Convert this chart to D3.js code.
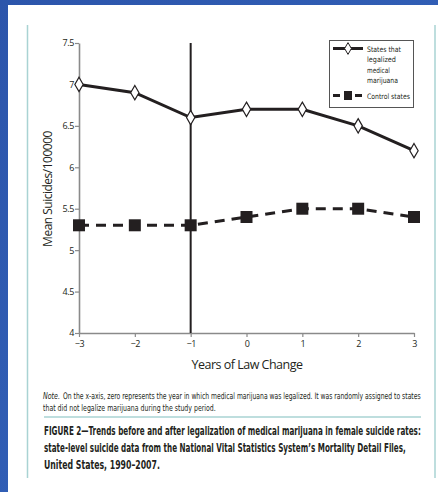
<!DOCTYPE html>
<html>
<head>
<meta charset="utf-8">
<script src="https://cdn.jsdelivr.net/npm/d3@7"></script>
<style>
  html, body { margin: 0; padding: 0; background: #2d5bb0; }
  svg { display: block; }
</style>
</head>
<body>
<svg id="chart" width="438" height="492"></svg>
<script>
// Years relative to the law change
const years = [-3, -2, -1, 0, 1, 2, 3];
// Mean female suicides per 100 000
const legalized = [7.0, 6.9, 6.6, 6.7, 6.7, 6.5, 6.2];
const control = [5.3, 5.3, 5.3, 5.4, 5.5, 5.5, 5.4];
const yTicks = [4, 4.5, 5, 5.5, 6, 6.5, 7, 7.5];
const legendLabels = [["States that", "legalized", "medical", "marijuana"], ["Control states"]];
const noteLead = "Note.";
const noteLines = [
  "On the x-axis, zero represents the year in which medical marijuana was legalized. It was randomly assigned to states",
  "that did not legalize marijuana during the study period."
];
const captionLines = [
  "FIGURE 2\u2014Trends before and after legalization of medical marijuana in female suicide rates:",
  "state-level suicide data from the National Vital Statistics System\u2019s Mortality Detail Files,",
  "United States, 1990\u20132007."
];
const lawYear = -1;

const svg = d3.select("#chart");
const ink = "#231f20";
const teal = "#a9d3d3";
const narrow = "'Liberation Sans Narrow', 'DejaVu Sans Condensed', sans-serif";
const axisFont = "'Open Sans', 'DejaVu Sans', sans-serif";

// condensed text: draw at (x, y) and squeeze horizontally to width w
function condensed(parent, str, x, y, w, size, opts = {}) {
  const g = parent.append("g").attr("transform", `translate(${x},${y})`);
  const t = g.append("text").attr("font-family", narrow).attr("font-size", size)
    .attr("fill", ink).attr("font-weight", opts.weight || "normal")
    .attr("font-style", opts.style || "normal").text(str);
  const natural = t.node().getComputedTextLength();
  t.attr("transform", `scale(${w / natural},1)`);
  return t;
}

// page background
const grad = svg.append("defs").append("linearGradient").attr("id", "bg")
  .attr("x1", 0).attr("y1", 0).attr("x2", 1).attr("y2", 1);
grad.append("stop").attr("offset", 0).attr("stop-color", "#2c55ab");
grad.append("stop").attr("offset", 1).attr("stop-color", "#3566be");
svg.append("rect").attr("width", 438).attr("height", 492).attr("fill", "url(#bg)");
svg.append("rect").attr("x", 8).attr("y", 5).attr("width", 430).attr("height", 487).attr("fill", "#ffffff");

// frame rules
svg.append("line").attr("x1", 27.5).attr("x2", 27.5).attr("y1", 25).attr("y2", 478)
  .attr("stroke", teal).attr("stroke-width", 1.5);
svg.append("line").attr("x1", 435).attr("x2", 435).attr("y1", 25).attr("y2", 478)
  .attr("stroke", teal).attr("stroke-width", 1.5);
svg.append("line").attr("x1", 44).attr("x2", 421).attr("y1", 417).attr("y2", 417)
  .attr("stroke", teal).attr("stroke-width", 1.5);

// scales
const x = d3.scaleLinear().domain([-3, 3]).range([79, 414]);
const y = d3.scaleLinear().domain([4, 7.5]).range([333, 43]);

// axes
const xAxis = svg.append("g").attr("transform", "translate(0,333)")
  .call(d3.axisBottom(x).tickValues(years).tickSize(4).tickSizeOuter(0)
    .tickFormat(d => d < 0 ? "\u2212" + Math.abs(d) : d));
const yAxis = svg.append("g").attr("transform", "translate(79,0)")
  .call(d3.axisLeft(y).tickValues(yTicks).tickSize(4).tickSizeOuter(0).tickFormat(d3.format("")));
[xAxis, yAxis].forEach(g => {
  g.select(".domain").attr("stroke", "#8a8a8a").attr("stroke-width", 1.6);
  g.selectAll(".tick line").attr("stroke", "#8a8a8a").attr("stroke-width", 1.2);
  g.selectAll(".tick text").attr("fill", ink).attr("font-family", axisFont)
    .attr("font-size", 9).attr("letter-spacing", -0.4);
});
xAxis.selectAll(".tick text").attr("y", 8).attr("dy", "0.71em");
yAxis.selectAll(".tick text").attr("x", -5);

// axis titles
svg.append("text").attr("x", 247).attr("y", 369).attr("text-anchor", "middle")
  .attr("font-family", axisFont).attr("font-size", 12.5).attr("letter-spacing", -0.5)
  .attr("fill", ink).text("Years of Law Change");
svg.append("text").attr("transform", "translate(52,189) rotate(-90)").attr("text-anchor", "middle")
  .attr("font-family", axisFont).attr("font-size", 12).attr("letter-spacing", -0.5)
  .attr("fill", ink).text("Mean Suicides/100000");

// law change marker
svg.append("line").attr("x1", x(lawYear)).attr("x2", x(lawYear)).attr("y1", y(7.5)).attr("y2", y(4))
  .attr("stroke", ink).attr("stroke-width", 2);

const line = d3.line().x((d, i) => x(years[i])).y(d => y(d));

// control states series (dashed, squares)
svg.append("path").datum(control).attr("d", line).attr("fill", "none")
  .attr("stroke", ink).attr("stroke-width", 3).attr("stroke-dasharray", "10,7");
svg.append("g").selectAll("rect").data(control).join("rect")
  .attr("x", (d, i) => x(years[i]) - 6).attr("y", d => y(d) - 6)
  .attr("width", 12).attr("height", 12).attr("fill", ink);

// legalized states series (solid, diamonds)
const diamond = d3.symbol().type(d3.symbolDiamond).size(60);
svg.append("path").datum(legalized).attr("d", line).attr("fill", "none")
  .attr("stroke", ink).attr("stroke-width", 3);
svg.append("g").selectAll("path").data(legalized).join("path")
  .attr("transform", (d, i) => `translate(${x(years[i])},${y(d)})`)
  .attr("d", diamond).attr("fill", "#fff").attr("stroke", ink).attr("stroke-width", 1.2);

// legend
const lg = svg.append("g");
lg.append("rect").attr("x", 329.5).attr("y", 40.5).attr("width", 84).attr("height", 67)
  .attr("fill", "#fff").attr("stroke", "#555").attr("stroke-width", 1);
lg.append("line").attr("x1", 333).attr("x2", 363).attr("y1", 48.5).attr("y2", 48.5)
  .attr("stroke", ink).attr("stroke-width", 3);
lg.append("path").attr("transform", "translate(348,48.5)")
  .attr("d", d3.symbol().type(d3.symbolDiamond).size(40))
  .attr("fill", "#fff").attr("stroke", ink).attr("stroke-width", 1);
lg.append("line").attr("x1", 333).attr("x2", 363).attr("y1", 95.5).attr("y2", 95.5)
  .attr("stroke", ink).attr("stroke-width", 3).attr("stroke-dasharray", "7,4");
lg.append("rect").attr("x", 344).attr("y", 91).attr("width", 8).attr("height", 9).attr("fill", ink);
const legendWidths = [34, 29, 23, 31];
legendLabels[0].forEach((t, i) => condensed(lg, t, 367, 52 + i * 10.3, legendWidths[i], 7.5));
condensed(lg, legendLabels[1][0], 367, 98.5, 43, 7.5);

// note
condensed(svg, noteLead, 43, 399, 17, 9, { style: "italic" });
condensed(svg, noteLines[0], 63, 399, 358, 9);
condensed(svg, noteLines[1], 43, 411, 173, 9);

// caption
const captionWidths = [377, 362, 116];
captionLines.forEach((t, i) =>
  condensed(svg, t, 44, 435 + i * 17, captionWidths[i], 11.5, { weight: "bold" }));
</script>
</body>
</html>
